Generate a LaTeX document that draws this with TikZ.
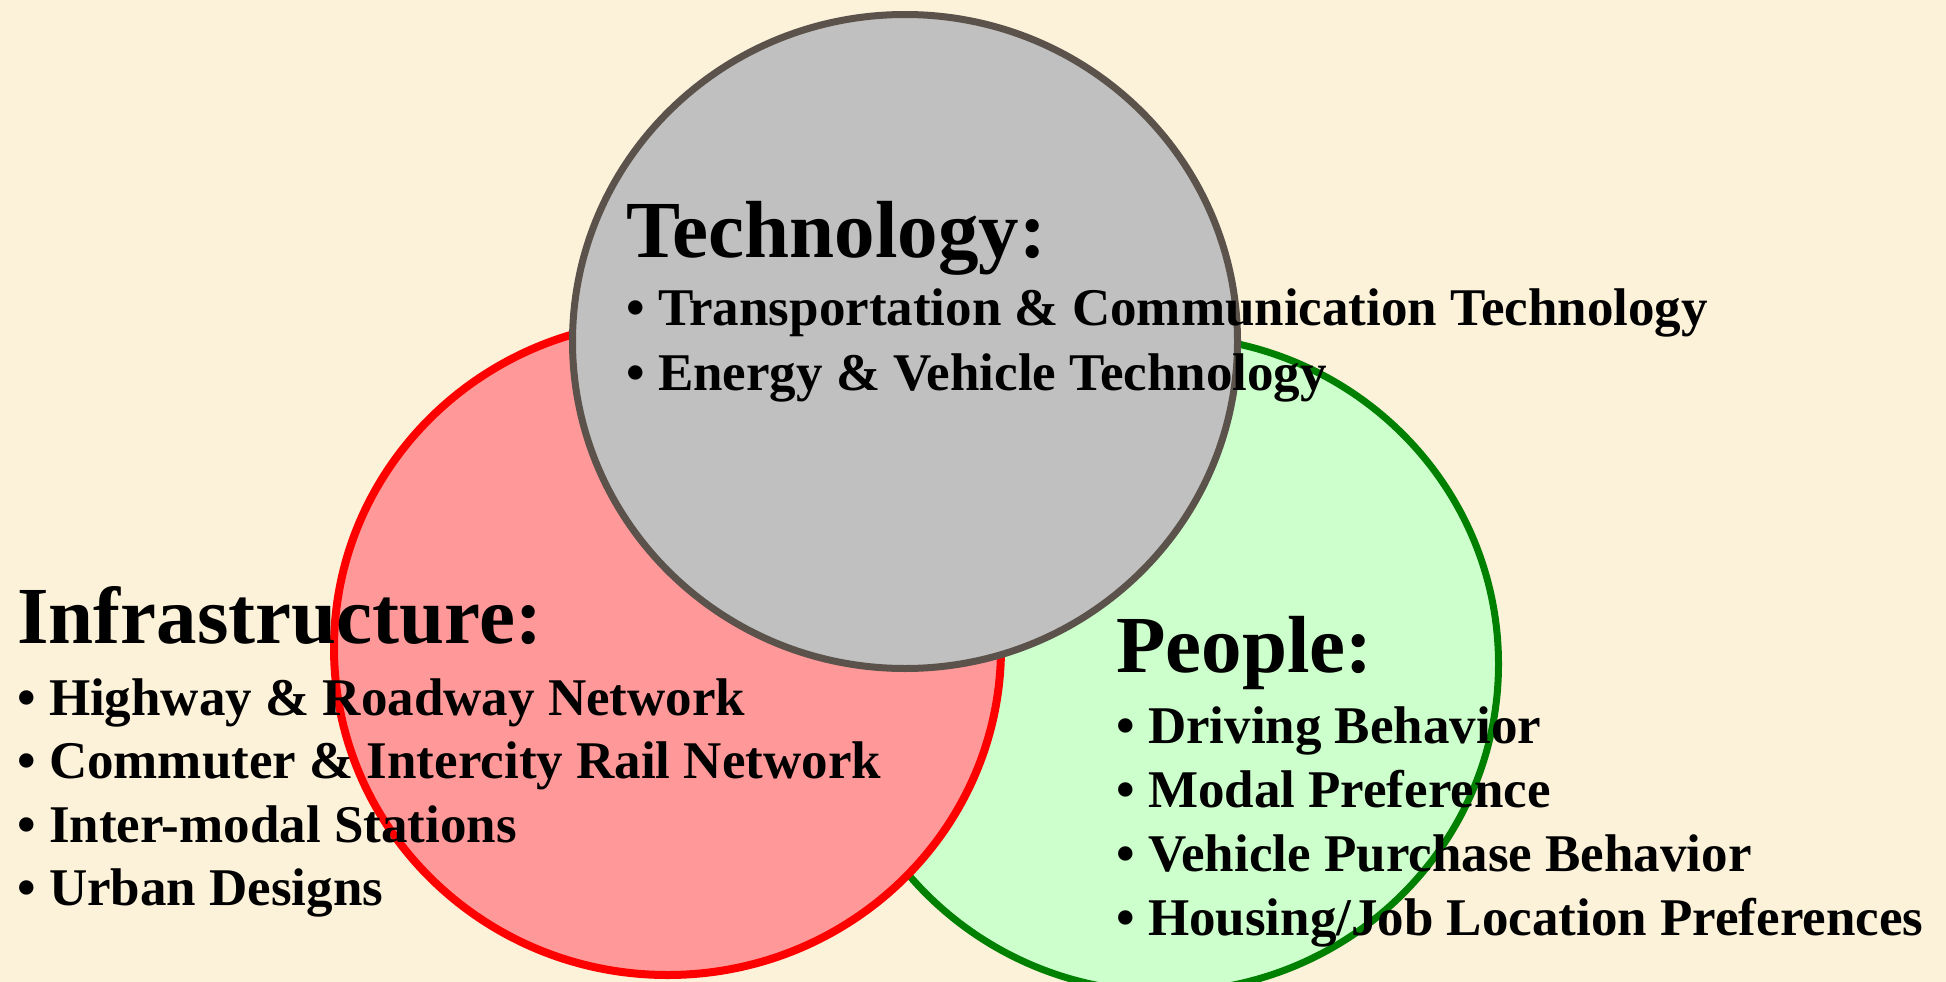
\documentclass[tikz,border=0pt]{standalone}
\usepackage{fontspec}
\setmainfont{Liberation Serif}
\usepackage{tikz}

\definecolor{parchment}{HTML}{FCF2DA}
\definecolor{techgray}{HTML}{C0C0C0}
\definecolor{techrim}{HTML}{5B534B}
\definecolor{infrared}{HTML}{FF9999}
\definecolor{peoplegreen}{HTML}{CCFFCC}
\definecolor{peoplerim}{HTML}{008000}

\begin{document}
\begin{tikzpicture}[x=1pt,y=-1pt,
    heading/.style={font=\fontsize{81}{97}\selectfont\bfseries, inner sep=0pt, anchor=base west},
    item/.style={font=\fontsize{53}{64}\selectfont\bfseries, inner sep=0pt, anchor=base west}]
    \useasboundingbox (0,0) rectangle (1946,982);
    \fill[parchment] (0,0) rectangle (1946,982);
    % the three circles, people at the back, technology in front
    \draw[fill=peoplegreen, draw=peoplerim, line width=7pt] (1164.5,664) circle[x radius=334pt, y radius=328pt];
    \draw[fill=infrared, draw=red, line width=8pt] (667.5,648) circle[x radius=333.5pt, y radius=327pt];
    \draw[fill=techgray, draw=techrim, line width=7pt] (905,341.5) circle[x radius=332.5pt, y radius=327pt];
    % labels
    \node[heading] (tech) at (626,257) {Technology:};
    \foreach \txt [count=\i] in {Transportation \& Communication Technology, Energy \& Vehicle Technology}
        \node[item] (tech\i) at (626,{325+65*(\i-1)}) {\textbullet\ \txt};
    \node[heading] (infra) at (17,643) {Infrastructure:};
    \foreach \txt [count=\i] in {Highway \& Roadway Network, Commuter \& Intercity Rail Network, Inter-modal Stations, Urban Designs}
        \node[item] (infra\i) at (17,{715+63.5*(\i-1)}) {\textbullet\ \txt};
    \node[heading] (people) at (1116,672) {People:};
    \foreach \txt [count=\i] in {Driving Behavior, Modal Preference, Vehicle Purchase Behavior, Housing/Job Location Preferences}
        \node[item] (people\i) at (1116,{743+64*(\i-1)}) {\textbullet\ \txt};
\end{tikzpicture}
\end{document}
